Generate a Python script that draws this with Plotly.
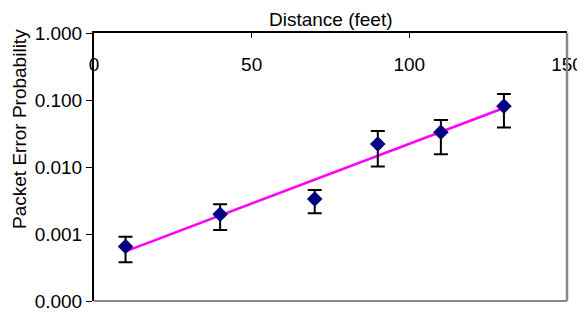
import numpy as np
import plotly.graph_objects as go

# Data
distance_ft = [10, 40, 70, 90, 110, 130]
packet_error_prob = [0.00065, 0.00197, 0.00333, 0.022, 0.033, 0.081]
error_upper = [0.00091, 0.00277, 0.00454, 0.0344, 0.0503, 0.123]
error_lower = [0.00038, 0.00115, 0.00204, 0.0102, 0.0155, 0.039]

x_ticks = [0, 50, 100, 150]
y_ticks = [0.0001, 0.001, 0.01, 0.1, 1]
y_tick_text = ["0.000", "0.001", "0.010", "0.100", "1.000"]

# Exponential trend line (least squares fit on log10 of values)
lx = np.array(distance_ft, dtype=float)
ly = np.log10(np.array(packet_error_prob))
slope, intercept = np.polyfit(lx, ly, 1)
trend_x = [min(distance_ft), max(distance_ft)]
trend_y = [10 ** (intercept + slope * v) for v in trend_x]

err_plus = [u - v for u, v in zip(error_upper, packet_error_prob)]
err_minus = [v - l for v, l in zip(packet_error_prob, error_lower)]

FONT = "Liberation Sans, Arial, sans-serif"
FS = 19

fig = go.Figure()
fig.add_trace(go.Scatter(
    x=trend_x, y=trend_y, mode="lines",
    line=dict(color="#FF00FF", width=2.5),
    hoverinfo="skip", showlegend=False,
))
fig.add_trace(go.Scatter(
    x=distance_ft, y=packet_error_prob, mode="markers",
    marker=dict(symbol="diamond", size=12, color="#000080"),
    error_y=dict(type="data", symmetric=False, array=err_plus,
                 arrayminus=err_minus, color="black", thickness=2, width=7),
    showlegend=False,
))
# invisible trace to carry the tick-label axis
fig.add_trace(go.Scatter(x=[], y=[], xaxis="x2", yaxis="y",
                         showlegend=False, hoverinfo="skip"))

# page body has an 8px margin, so the figure is sized/offset for that
fig.update_layout(
    width=577, height=306,
    margin=dict(l=86, r=18, t=25, b=13),
    paper_bgcolor="white", plot_bgcolor="white",
    font=dict(family=FONT, size=FS, color="black"),
    xaxis=dict(
        side="top", range=[0, 150], tickvals=x_ticks,
        showline=True, linecolor="black", linewidth=2,
        ticks="inside", ticklen=5, tickcolor="black", tickwidth=1,
        showticklabels=False, automargin=False,
        showgrid=False, zeroline=False,
    ),
    xaxis2=dict(
        overlaying="x", anchor="free", position=0.932, side="bottom",
        range=[0, 150], tickvals=x_ticks, showline=False, ticks="",
        showgrid=False, zeroline=False, automargin=False,
        tickfont=dict(size=FS),
    ),
    yaxis=dict(
        type="log", range=[-4, 0], tickvals=y_ticks, ticktext=y_tick_text,
        showline=True, linecolor="black", linewidth=2,
        ticks="outside", ticklen=6, tickcolor="black", tickwidth=1,
        showgrid=False, zeroline=False, automargin=False,
        tickfont=dict(size=FS),
    ),
    shapes=[
        dict(type="line", xref="paper", yref="paper", x0=1, x1=1, y0=0, y1=1,
             layer="above", line=dict(color="#888888", width=2.5)),
        dict(type="line", xref="paper", yref="paper", x0=0, x1=1, y0=0, y1=0,
             layer="above", line=dict(color="#888888", width=2)),
    ],
    annotations=[
        dict(text="Distance (feet)", xref="paper", yref="paper",
             x=0.5, y=1, yshift=14, showarrow=False,
             xanchor="center", yanchor="middle", font=dict(size=FS)),
        dict(text="Packet Error Probability", xref="paper", yref="paper",
             x=0, xshift=-74, y=0.642, textangle=-90, showarrow=False,
             xanchor="center", yanchor="middle", font=dict(size=FS)),
    ],
)

fig.write_html("out.html")
